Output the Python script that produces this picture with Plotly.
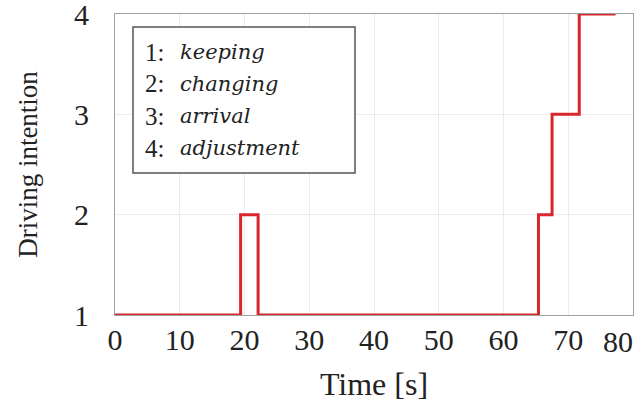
import plotly.graph_objects as go

time_s = [0, 19.4, 19.4, 22.1, 22.1, 65.4, 65.4, 67.5, 67.5, 71.7, 71.7, 77.3]
intention = [1, 1, 2, 2, 1, 1, 2, 2, 3, 3, 4, 4]
x_ticks = [0, 10, 20, 30, 40, 50, 60, 70, 80]
y_ticks = [1, 2, 3, 4]
legend_nums = ["1:", "2:", "3:", "4:"]
legend_words = ["keeping", "changing", "arrival", "adjustment"]

font = "Liberation Serif"
ifont = "DejaVu Serif"

fig = go.Figure()
fig.add_trace(go.Scatter(x=time_s, y=intention, mode="lines",
                         line=dict(color="#d9262c", width=3), showlegend=False))

# last x tick label drawn right-aligned so it fits in the window
x_ticktext = [str(v) for v in x_ticks[:-1]] + [""]

fig.update_layout(
    width=641, height=408,
    margin=dict(l=115, r=8, t=14, b=93),
    paper_bgcolor="white", plot_bgcolor="white",
    font=dict(family=font, size=30, color="#222"),
    xaxis=dict(range=[0, 80], tickvals=x_ticks, ticktext=x_ticktext, automargin=False,
               showgrid=True, gridcolor="#ececec",
               showline=True, linecolor="#a0a0a0", linewidth=1, mirror=True,
               zeroline=False, ticks="outside", ticklen=0, ticklabelstandoff=-2,
               ticklabeloverflow="allow",
               title=dict(text="Time [s]", standoff=17, font=dict(size=32))),
    yaxis=dict(range=[1, 4], tickvals=y_ticks, automargin=False,
               showgrid=True, gridcolor="#ececec",
               showline=True, linecolor="#a0a0a0", linewidth=1, mirror=True,
               zeroline=False, ticks="outside", ticklen=0, ticklabelstandoff=19,
               ticklabeloverflow="allow",
               title=dict(text="Driving intention", standoff=28, font=dict(size=27))),
)

fig.add_annotation(xref="paper", yref="paper", x=1, y=0, xanchor="right",
                   yanchor="middle", yshift=-26, xshift=2, showarrow=False,
                   text=str(x_ticks[-1]), font=dict(family=font, size=30, color="#222"))

# legend box (plot area spans 518 x 301 px)
fig.add_shape(type="rect", xref="paper", yref="paper",
              x0=(133 - 115) / 518, x1=(355 - 115) / 518,
              y0=(315 - 173) / 301, y1=(315 - 27) / 301,
              line=dict(color="#555", width=1.5), fillcolor="white", layer="above")

line_ys = [52, 84, 116, 148]
for num, word, py in zip(legend_nums, legend_words, line_ys):
    yp = (315 - py) / 301
    fig.add_annotation(xref="paper", yref="paper", x=(143 - 115) / 518, y=yp,
                       xanchor="left", yanchor="middle", showarrow=False,
                       text=num, font=dict(family=font, size=25, color="#222"))
    fig.add_annotation(xref="paper", yref="paper", x=(178 - 115) / 518, y=yp,
                       xanchor="left", yanchor="middle", showarrow=False,
                       text=word, font=dict(family=ifont, size=21, color="#222", style="italic"))

# remove the default page margin so the figure fills the window exactly
fig.write_html("out.html", config={"displayModeBar": False},
               post_script="document.body.style.margin='0px';")
